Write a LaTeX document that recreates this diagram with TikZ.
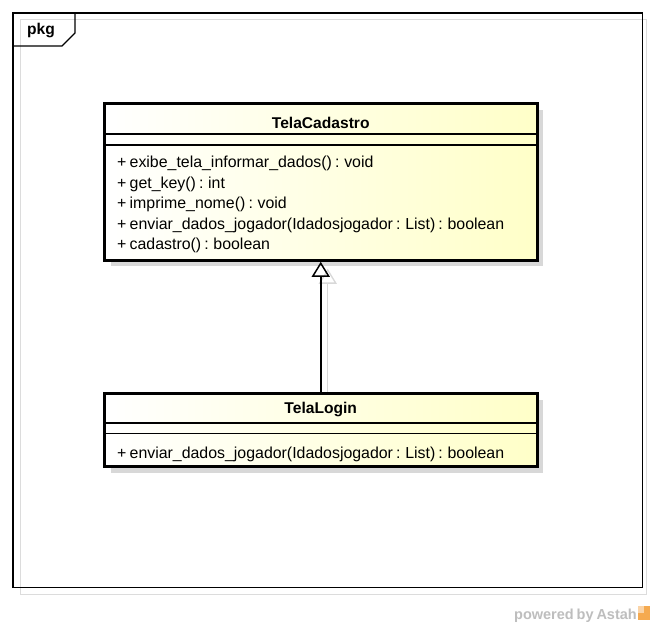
\documentclass[tikz,border=0pt]{standalone}
\usepackage{fontspec}
\setmainfont{Liberation Sans}[WordSpace=0.72]
\usetikzlibrary{arrows.meta,shadows,backgrounds}
\definecolor{astahyellow}{RGB}{255,255,200}
\definecolor{shadowgray}{RGB}{216,216,216}
\definecolor{framegray}{RGB}{220,220,220}
\definecolor{logoorange}{RGB}{245,170,80}
\definecolor{powergray}{RGB}{190,190,190}
\begin{document}
\begin{tikzpicture}[x=1pt,y=-1pt,
  txt/.style={font=\fontsize{15.9}{18}\selectfont, inner sep=0pt},
  member/.style={txt, anchor=base west},
  title/.style={inner sep=0pt, font=\fontsize{15.6}{18}\selectfont\bfseries, anchor=base},
  classbox/.style={draw, line width=3pt, left color=white, right color=astahyellow, inner sep=0pt,
    drop shadow={shadow xshift=6pt, shadow yshift=-6pt, fill=shadowgray, opacity=1}},
  sep/.style={line width=1.6pt},
  gen/.style={line width=1.5pt, -{Triangle[open, length=15pt, width=18pt, line width=1.5pt]}},
  genshadow/.style={shadowgray, line width=1.3pt, -{Triangle[open, length=15pt, width=18pt, line width=1.3pt]}}
]
\useasboundingbox (0,0) rectangle (656,628);

% package frame
\draw[framegray, line width=1pt] (20,20) rectangle (646,594);
\draw[line width=1.2pt] (13,13) rectangle (642.5,587.5);
\draw[line width=1.2pt] (13,46) -- (62,46) -- (75,33) -- (75,13);
\node[title, anchor=base west] (pkg) at (27,35) {pkg};

% TelaCadastro
\node[classbox, minimum width=432.5pt, minimum height=156.6pt] (cad) at (320.75,182) {};
\draw[sep] (104.5,134.3) -- (537,134.3);
\draw[sep] (104.5,145) -- (537,145);
\node[title] (cadt) at (320.75,128.3) {TelaCadastro};
\node[member] (m1) at (117,168) {+ exibe\_tela\_informar\_dados() : void};
\node[member] (m2) at (117,188.4) {+ get\_key() : int};
\node[member] (m3) at (117,208.8) {+ imprime\_nome() : void};
\node[member] (m4) at (117,229.2) {+ enviar\_dados\_jogador(Idadosjogador : List) : boolean};
\node[member] (m5) at (117,249.6) {+ cadastro() : boolean};

% TelaLogin
\node[classbox, minimum width=432.5pt, minimum height=73.3pt] (login) at (320.75,430.3) {};
\draw[sep] (104.5,422.7) -- (537,422.7);
\draw[sep] (104.5,433.3) -- (537,433.3);
\node[title] (logint) at (320.75,413.3) {TelaLogin};
\node[member] (l1) at (117,458) {+ enviar\_dados\_jogador(Idadosjogador : List) : boolean};

% generalization (shadow behind everything)
\begin{scope}[on background layer]
\fill[white] (0,0) rectangle (656,628);
\draw[genshadow] ([xshift=7pt]login.north) -- ([xshift=7pt,yshift=-7pt]cad.south);
\end{scope}
\draw[gen] (login.north) -- (cad.south);

% footer
\node[anchor=base east, inner sep=0pt, text=powergray, font=\fontsize{14.5}{16}\selectfont\bfseries] (pw) at (637,619) {powered by Astah};
\fill[logoorange] (638,606) rectangle (650,620);
\fill[logoorange!50] (638,606) rectangle (644,613);
\end{tikzpicture}
\end{document}
